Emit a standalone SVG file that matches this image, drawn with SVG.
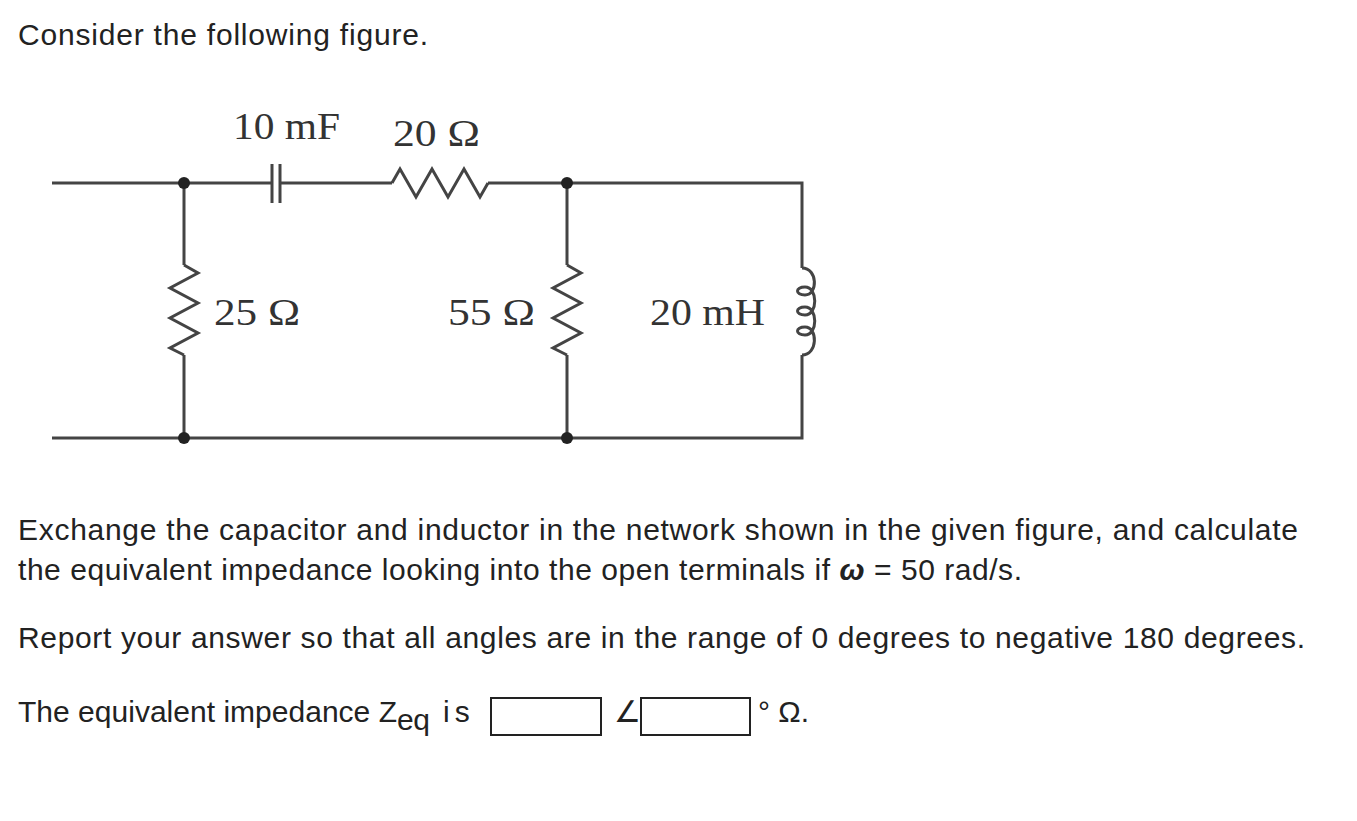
<svg xmlns="http://www.w3.org/2000/svg" width="1357" height="821" viewBox="0 0 1357 821">
<style>
.t{font-family:"Liberation Sans",Arial,sans-serif;font-size:30px;fill:#222}
.s{font-family:"Liberation Serif","Times New Roman",serif;font-size:38px;fill:#333}
.w{fill:none;stroke:#444;stroke-width:3;stroke-linejoin:miter}
.d{fill:#222}
.b{fill:#fff;stroke:#222;stroke-width:2}
</style>
<rect width="1357" height="821" fill="#fff"/>
<text class="t" x="18" y="45" textLength="410">Consider the following figure.</text>
<g id="connectors">
<path class="w" d="M52 183H272M280 183H392M488 183H802V268M802 355V438H52"/>
<path class="w" d="M184 183V265M184 355V438M567 183V265M567 355V438"/>
</g>
<g id="C1"><path class="w" d="M272 164V203M280 164V203"/><text class="s" x="233" y="139" textLength="107" lengthAdjust="spacingAndGlyphs">10 mF</text></g>
<g id="R20"><path class="w" d="M392 183L400 169L416 197L432 169L448 197L464 169L480 197L488 183"/><text class="s" x="393" y="146" textLength="87" lengthAdjust="spacingAndGlyphs">20 Ω</text></g>
<g id="R25"><path class="w" d="M184 265L198 273L170 288L198 303L170 318L198 333L170 348L184 355"/><text class="s" x="214" y="325" textLength="86" lengthAdjust="spacingAndGlyphs">25 Ω</text></g>
<g id="R55"><path class="w" d="M567 265L581 273L553 288L581 303L553 318L581 333L553 348L567 355"/><text class="s" x="448" y="325" textLength="87" lengthAdjust="spacingAndGlyphs">55 Ω</text></g>
<g id="L"><path class="w" d="M802 268C818 268 818 295 805 295C795 295 795 287 805 287C818 287 818 315 805 315C795 315 795 307 805 307C818 307 818 335 805 335C795 335 795 327 805 327C818 327 818 355 802 355"/><text class="s" x="650" y="325" textLength="115" lengthAdjust="spacingAndGlyphs">20 mH</text></g>
<g id="nodes"><circle class="d" cx="184" cy="183" r="6"/><circle class="d" cx="567" cy="183" r="6"/><circle class="d" cx="184" cy="438" r="6"/><circle class="d" cx="567" cy="438" r="6"/></g>
<text class="t" x="18" y="540" textLength="1280">Exchange the capacitor and inductor in the network shown in the given figure, and calculate</text>
<text class="t" x="18" y="580" textLength="1004">the equivalent impedance looking into the open terminals if <tspan font-style="italic" font-weight="bold">ω</tspan> = 50 rad/s.</text>
<text class="t" x="18" y="648" textLength="1287">Report your answer so that all angles are in the range of 0 degrees to negative 180 degrees.</text>
<text class="t" x="18" y="722"><tspan textLength="379">The equivalent impedance Z</tspan><tspan dy="8" textLength="33">eq</tspan><tspan dy="-8" textLength="40"> is</tspan></text>
<rect class="b" x="491" y="698" width="110" height="37"/>
<text class="t" x="614" y="722" font-size="14">∠</text>
<rect class="b" x="641" y="698" width="109" height="37"/>
<text class="t" x="758" y="722">° Ω.</text>
</svg>
